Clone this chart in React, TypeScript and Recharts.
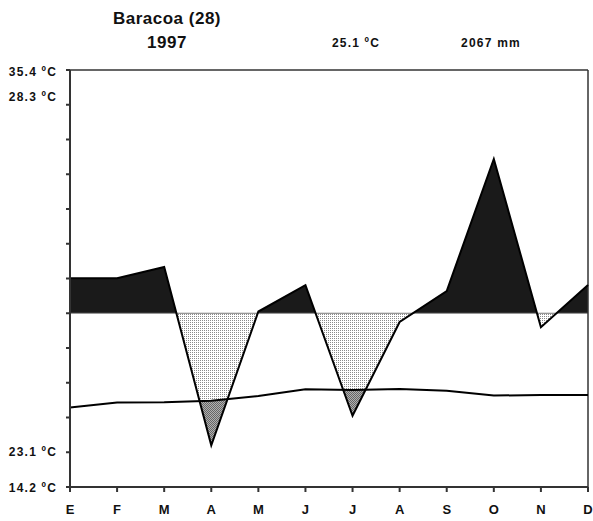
import { ComposedChart, Area, Line, XAxis, YAxis, ReferenceLine } from "recharts";

// Walter-Lieth style climate diagram for Baracoa, 1997
const months = ["E", "F", "M", "A", "M", "J", "J", "A", "S", "O", "N", "D"];
const precipitationMm = [201, 201, 233, 24, 105, 181, 41, 95, 164, 544, 92, 181];
const temperatureC = [22.9, 24.3, 24.4, 24.8, 26.2, 28.1, 27.9, 28.2, 27.7, 26.3, 26.5, 26.5];

const yTickValues = [0, 1, 2, 3, 4, 5, 6, 7, 8, 9, 10, 11, 12];
const yTickLabels: Record<number, string> = {
  12: "35.4 ºC",
  11: "28.3 ºC",
  1: "23.1 ºC",
  0: "14.2 ºC",
};

const W = 593;
const H = 521;
const X_AXIS_H = 34;
const M = { top: 70, right: 5, bottom: 0, left: 0 };
const AXIS_W = 70;
const PLOT_TOP = M.top;
const PLOT_BOTTOM = H - M.bottom - X_AXIS_H;

// 10 ºC = 20 mm below 100 mm, 100 mm per division above it
const precipUnits = (p: number) => (p <= 100 ? p / 20 : 5 + (p - 100) / 100);

const data = months.map((m, i) => ({
  idx: i,
  month: m,
  precip: precipUnits(precipitationMm[i]),
  temp: temperatureC[i] / 10,
}));

const FONT = "'Liberation Sans', Arial, sans-serif";

const labelOffset: Record<number, number> = { 12: 2, 11: -8, 1: 0, 0: 1 };

const YTick = (props: any) => {
  const { x, y, payload } = props;
  const label = yTickLabels[payload.value];
  if (!label) return <g />;
  return (
    <text
      x={x}
      y={y + (labelOffset[payload.value] ?? 0)}
      textAnchor="end"
      dominantBaseline="central"
      fontFamily={FONT}
      fontWeight="bold"
      fontSize={12}
      letterSpacing={1.2}
      fill="#111"
    >
      {label}
    </text>
  );
};

const XTick = (props: any) => {
  const { x, y, payload } = props;
  return (
    <text
      x={x}
      y={y}
      dy="0.71em"
      textAnchor="middle"
      fontFamily={FONT}
      fontWeight="bold"
      fontSize={13}
      fill="#111"
    >
      {months[payload.value]}
    </text>
  );
};

const header = (text: string, cx: number, cy: number, size: number, spacing: number) => (
  <div
    style={{
      position: "absolute",
      left: cx,
      top: cy,
      transform: "translate(-50%, -50%)",
      fontFamily: FONT,
      fontWeight: "bold",
      fontSize: size,
      letterSpacing: spacing,
      lineHeight: 1,
      whiteSpace: "nowrap",
      color: "#111",
    }}
  >
    {text}
  </div>
);

export default function App() {
  const splitOffset = (12 - 5) / 12;
  return (
    <div style={{ position: "absolute", left: 0, top: 0, width: W, height: H, background: "#fff" }}>
      {header("Baracoa (28)", 167, 18, 17, 0.5)}
      {header("1997", 167, 42, 17, 0.5)}
      {header("25.1 ºC", 356, 43, 12, 1.2)}
      {header("2067 mm", 491, 43, 12, 1.2)}
      <ComposedChart width={W} height={H} data={data} margin={M}>
        <defs>
          <pattern id="dots" width="2" height="2" patternUnits="userSpaceOnUse">
            <rect width="2" height="2" fill="#fff" />
            <rect width="1" height="1" fill="#8a8a8a" />
          </pattern>
          <pattern id="dense" width="2" height="2" patternUnits="userSpaceOnUse">
            <rect width="2" height="2" fill="#b0b0b0" />
            <rect width="1" height="1" fill="#666" />
            <rect x="1" y="1" width="1" height="1" fill="#666" />
          </pattern>
          <linearGradient
            id="wet"
            gradientUnits="userSpaceOnUse"
            x1="0"
            y1={PLOT_TOP}
            x2="0"
            y2={PLOT_BOTTOM}
          >
            <stop offset={0} stopColor="#1a1a1a" />
            <stop offset={splitOffset} stopColor="#1a1a1a" />
            <stop offset={splitOffset} stopColor="#1a1a1a" stopOpacity={0} />
            <stop offset={1} stopColor="#1a1a1a" stopOpacity={0} />
          </linearGradient>
        </defs>
        <XAxis
          dataKey="idx"
          type="number"
          domain={[0, 11]}
          ticks={[0, 1, 2, 3, 4, 5, 6, 7, 8, 9, 10, 11]}
          interval={0}
          height={X_AXIS_H}
          tick={<XTick />}
          tickSize={5}
          tickMargin={13}
          stroke="#333"
          strokeWidth={2}
        />
        <YAxis
          type="number"
          domain={[0, 12]}
          ticks={yTickValues}
          interval={0}
          width={AXIS_W}
          tick={<YTick />}
          tickSize={4}
          tickMargin={9}
          stroke="#333"
          strokeWidth={2}
        />
        {/* humid months below 100 mm */}
        <Area
          type="linear"
          dataKey="precip"
          baseValue={5}
          fill="url(#dots)"
          fillOpacity={1}
          stroke="none"
          isAnimationActive={false}
        />
        {/* arid period: under the temperature curve */}
        <Area
          type="linear"
          dataKey="temp"
          baseValue={0}
          fill="url(#dense)"
          fillOpacity={1}
          stroke="none"
          isAnimationActive={false}
        />
        {/* blank out everything beneath the precipitation curve */}
        <Area
          type="linear"
          dataKey="precip"
          baseValue={0}
          fill="#fff"
          fillOpacity={1}
          stroke="none"
          isAnimationActive={false}
        />
        {/* perhumid months above 100 mm */}
        <Area
          type="linear"
          dataKey="precip"
          baseValue={5}
          fill="url(#wet)"
          fillOpacity={1}
          stroke="none"
          isAnimationActive={false}
        />
        <ReferenceLine y={5} stroke="#777" strokeWidth={1} />
        <ReferenceLine y={12} stroke="#333" strokeWidth={1.5} />
        <ReferenceLine x={11} stroke="#333" strokeWidth={1.5} />
        <Line
          type="linear"
          dataKey="temp"
          stroke="#000"
          strokeWidth={2}
          dot={false}
          isAnimationActive={false}
        />
        <Line
          type="linear"
          dataKey="precip"
          stroke="#000"
          strokeWidth={2}
          dot={false}
          isAnimationActive={false}
        />
      </ComposedChart>
    </div>
  );
}
